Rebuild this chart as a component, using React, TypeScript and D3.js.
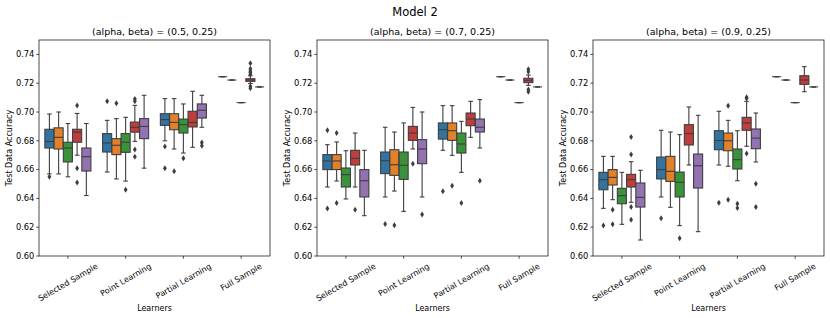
import { useMemo } from "react";
import * as d3 from "d3";

// categories
const learners = ["Selected Sample", "Point Learning", "Partial Learning", "Full Sample"];
const hues = ["h0", "h1", "h2", "h3", "h4"];
const hueColors = ["#3274a1", "#e1812c", "#3a923a", "#c03d3e", "#9372b2"];
const panelTitles = [
  "(alpha, beta) = (0.5, 0.25)",
  "(alpha, beta) = (0.7, 0.25)",
  "(alpha, beta) = (0.9, 0.25)",
];
const yTicks = [0.6, 0.62, 0.64, 0.66, 0.68, 0.7, 0.72, 0.74];

// [whiskerLow, q1, median, q3, whiskerHigh] per learner, per hue
const p1Stats = [
  [[0.657, 0.675, 0.6795, 0.688, 0.6986], [0.657, 0.6743, 0.6824, 0.689, 0.700], [0.655, 0.6653, 0.675, 0.679, 0.692], [0.670, 0.679, 0.686, 0.688, 0.699], [0.642, 0.659, 0.669, 0.675, 0.692]],
  [[0.6583, 0.6722, 0.6785, 0.685, 0.6942], [0.6535, 0.6704, 0.6769, 0.6815, 0.6954], [0.652, 0.672, 0.679, 0.685, 0.6963], [0.6796, 0.686, 0.6894, 0.693, 0.7046], [0.661, 0.6815, 0.690, 0.6954, 0.7116]],
  [[0.680, 0.6907, 0.6947, 0.6988, 0.7093], [0.6743, 0.6877, 0.6928, 0.6988, 0.7093], [0.6715, 0.6854, 0.6912, 0.6951, 0.7056], [0.6755, 0.6896, 0.6928, 0.7005, 0.7144], [0.6894, 0.6958, 0.7012, 0.7056, 0.7116]],
  [[0.7245, 0.7245, 0.7245, 0.7245, 0.7245], [0.7222, 0.7222, 0.7222, 0.7222, 0.7222], [0.7065, 0.7065, 0.7065, 0.7065, 0.7065], [0.7198, 0.7213, 0.7222, 0.7231, 0.7252], [0.7174, 0.7174, 0.7174, 0.7174, 0.7174]],
];
const p1Fliers = [
  [[0.655], [], [], [0.7046, 0.661, 0.651], []],
  [[0.7074], [0.706], [0.646], [0.709, 0.7074, 0.674, 0.669], []],
  [[0.676, 0.661], [0.6588], [0.6678], [], [0.6789, 0.6766]],
  [[], [], [], [0.7262, 0.7275, 0.7285, 0.730, 0.7338, 0.7178, 0.7165], []],
];

const p2Stats = [
  [[0.6479, 0.660, 0.666, 0.6704, 0.6773], [0.6521, 0.660, 0.666, 0.6704, 0.6792], [0.6396, 0.6479, 0.6565, 0.6611, 0.6731], [0.6479, 0.6632, 0.6678, 0.6734, 0.6854], [0.628, 0.641, 0.6523, 0.660, 0.6734]],
  [[0.641, 0.6572, 0.6662, 0.6722, 0.6894], [0.6451, 0.656, 0.6634, 0.6738, 0.6861], [0.631, 0.6532, 0.663, 0.6722, 0.6924], [0.6743, 0.6803, 0.6854, 0.690, 0.7032], [0.641, 0.6641, 0.6743, 0.6808, 0.700]],
  [[0.6734, 0.6812, 0.6877, 0.6924, 0.7044], [0.6699, 0.6803, 0.687, 0.6924, 0.7044], [0.6581, 0.6715, 0.6778, 0.6854, 0.6935], [0.6824, 0.6905, 0.6951, 0.6993, 0.7074], [0.675, 0.6861, 0.6894, 0.6951, 0.7086]],
  [[0.7245, 0.7245, 0.7245, 0.7245, 0.7245], [0.7222, 0.7222, 0.7222, 0.7222, 0.7222], [0.7065, 0.7065, 0.7065, 0.7065, 0.7065], [0.7185, 0.7204, 0.722, 0.7234, 0.7257], [0.7174, 0.7174, 0.7174, 0.7174, 0.7174]],
];
const p2Fliers = [
  [[0.6873, 0.6329], [0.6854, 0.6368], [], [0.6322], []],
  [[0.6222], [0.6213], [], [0.6641], [0.6289]],
  [[0.6449], [0.6488], [0.6368], [], [0.6523]],
  [[], [], [], [0.7297, 0.728, 0.7157, 0.7141], []],
];

const p3Stats = [
  [[0.6331, 0.646, 0.653, 0.6581, 0.6692], [0.6391, 0.6493, 0.6546, 0.660, 0.6692], [0.622, 0.6363, 0.6419, 0.647, 0.6581], [0.6373, 0.6479, 0.653, 0.6567, 0.6655], [0.6111, 0.634, 0.6407, 0.6507, 0.6595]],
  [[0.641, 0.6535, 0.660, 0.6687, 0.6873], [0.6338, 0.6518, 0.6588, 0.6692, 0.6861], [0.6211, 0.641, 0.6512, 0.6583, 0.6843], [0.6632, 0.6771, 0.685, 0.6912, 0.7035], [0.6169, 0.6472, 0.6627, 0.6708, 0.6977]],
  [[0.6632, 0.6738, 0.6803, 0.687, 0.7005], [0.6623, 0.6731, 0.680, 0.6854, 0.6942], [0.6523, 0.6604, 0.6669, 0.6743, 0.687], [0.6762, 0.6873, 0.6924, 0.6963, 0.7074], [0.6653, 0.6745, 0.6819, 0.6882, 0.6993]],
  [[0.7245, 0.7245, 0.7245, 0.7245, 0.7245], [0.7222, 0.7222, 0.7222, 0.7222, 0.7222], [0.7065, 0.7065, 0.7065, 0.7065, 0.7065], [0.7141, 0.7192, 0.7222, 0.7252, 0.7315], [0.7174, 0.7174, 0.7174, 0.7174, 0.7174]],
];
const p3Fliers = [
  [[0.6211], [0.6322, 0.622], [], [0.6826, 0.6704, 0.634, 0.6252], []],
  [[0.6262], [], [0.6123], [], []],
  [[0.637], [0.7044, 0.6391], [0.6363, 0.6333], [0.7102, 0.7093, 0.6711], [0.6502, 0.634]],
  [[], [], [], [], []],
];

const panelStats = [p1Stats, p2Stats, p3Stats];
const panelFliers = [p1Fliers, p2Fliers, p3Fliers];

const W = 830;
const H = 318;
const panelLefts = [39, 317, 593];
const panelW = 231;
const top = 40;
const bottom = 256;
const gray = "#3d3d3d";
const font = "DejaVu Sans, sans-serif";
const tickFont = 8;

function measure(text: string, size: number) {
  const ctx = document.createElement("canvas").getContext("2d");
  if (!ctx) return text.length * size * 0.55;
  ctx.font = `${size}px DejaVu Sans`;
  return ctx.measureText(text).width;
}

function Panel({ idx }: { idx: number }) {
  const left = panelLefts[idx];
  const stats = panelStats[idx];
  const fliers = panelFliers[idx];

  const x = d3.scaleBand().domain(learners).range([left, left + panelW]).padding(0);
  const y = d3.scaleLinear().domain([0.6, 0.75]).range([bottom, top]);
  const bw = x.bandwidth();
  const hx = d3.scaleBand().domain(hues).range([-0.4 * bw, 0.4 * bw]).padding(0);
  const boxW = hx.bandwidth() * 0.98;
  const capW = boxW * 0.5;
  // seaborn "d" flier marker
  const diamond = "M0,-3L1.9,0L0,3L-1.9,0Z";

  return (
    <g>
      <text x={left + panelW / 2} y={34.5} textAnchor="middle" fontSize={9.5} fontFamily={font} fill="#000">
        {panelTitles[idx]}
      </text>
      {learners.map((l, li) =>
        hues.map((h, hi) => {
          const [lo, q1, med, q3, hiW] = stats[li][hi];
          const cx = (x(l) as number) + bw / 2 + (hx(h) as number) + hx.bandwidth() / 2;
          return (
            <g key={l + h}>
              <line x1={cx} x2={cx} y1={y(q3)} y2={y(hiW)} stroke={gray} strokeWidth={1.1} />
              <line x1={cx} x2={cx} y1={y(q1)} y2={y(lo)} stroke={gray} strokeWidth={1.1} />
              <line x1={cx - capW / 2} x2={cx + capW / 2} y1={y(hiW)} y2={y(hiW)} stroke={gray} strokeWidth={1.1} />
              <line x1={cx - capW / 2} x2={cx + capW / 2} y1={y(lo)} y2={y(lo)} stroke={gray} strokeWidth={1.1} />
              <rect
                x={cx - boxW / 2}
                y={y(q3)}
                width={boxW}
                height={Math.max(0, y(q1) - y(q3))}
                fill={hueColors[hi]}
                stroke={gray}
                strokeWidth={1.1}
              />
              <line x1={cx - boxW / 2} x2={cx + boxW / 2} y1={y(med)} y2={y(med)} stroke={gray} strokeWidth={1.1} />
              {fliers[li][hi].map((v, k) => (
                <path key={k} d={diamond} transform={`translate(${cx},${y(v)})`} fill={gray} />
              ))}
            </g>
          );
        })
      )}
      <rect x={left} y={top} width={panelW} height={bottom - top} fill="none" stroke="#222" strokeWidth={0.8} />
      {yTicks.map((t) => (
        <g key={t}>
          <line x1={left - 2.7} x2={left} y1={y(t)} y2={y(t)} stroke="#222" strokeWidth={0.8} />
          <text x={left - 4.6} y={y(t)} dy="0.33em" textAnchor="end" fontSize={8.3} fontFamily={font} fill="#000">
            {d3.format(".2f")(t)}
          </text>
        </g>
      ))}
      {learners.map((l) => {
        const cx = (x(l) as number) + bw / 2;
        const tw = measure(l, tickFont);
        const th = tickFont * 1.17;
        const rh = tw * 0.5 + th * 0.866;
        const cy = bottom + 5.4 + rh / 2;
        return (
          <g key={l}>
            <line x1={cx} x2={cx} y1={bottom} y2={bottom + 2.7} stroke="#222" strokeWidth={0.8} />
            <text
              transform={`translate(${cx},${cy}) rotate(-30)`}
              textAnchor="middle"
              dy="0.35em"
              fontSize={tickFont}
              fontFamily={font}
              fill="#000"
            >
              {l}
            </text>
          </g>
        );
      })}
      <text x={left + panelW / 2} y={311} textAnchor="middle" fontSize={8} fontFamily={font} fill="#000">
        Learners
      </text>
      <text
        transform={`translate(${left - 27},${(top + bottom) / 2}) rotate(-90)`}
        textAnchor="middle"
        fontSize={8}
        fontFamily={font}
        fill="#000"
      >
        Test Data Accuracy
      </text>
    </g>
  );
}

export default function App() {
  const panels = useMemo(() => [0, 1, 2], []);
  return (
    <svg width={W} height={H} style={{ position: "absolute", left: 0, top: 0, background: "#fff" }}>
      <rect width={W} height={H} fill="#fff" />
      <text x={W / 2} y={16} textAnchor="middle" fontSize={11.5} fontFamily={font} fill="#000">
        Model 2
      </text>
      {panels.map((i) => (
        <Panel key={i} idx={i} />
      ))}
    </svg>
  );
}
